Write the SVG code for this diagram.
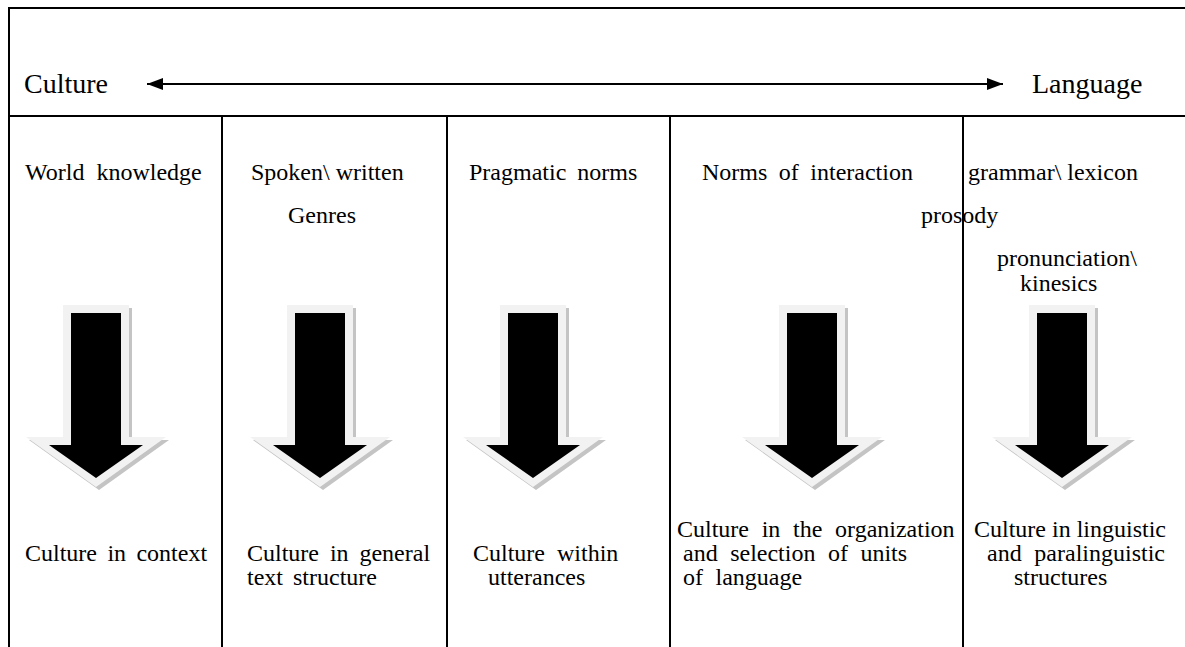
<svg xmlns="http://www.w3.org/2000/svg" width="1185" height="647" viewBox="0 0 1185 647">
<style>
  .big { font-size: 28px; }
  .lbl { font-size: 24px; }
  .frame { stroke: #000; stroke-width: 2; fill: none; }
  .shadow { fill: #c4c4c4; }
  .outer { fill: #f2f2f2; }
  .inner { fill: #000; }
</style>
<defs>
  <marker id="ah" viewBox="0 0 16 12" refX="16" refY="6" markerWidth="16" markerHeight="12" markerUnits="userSpaceOnUse" orient="auto-start-reverse">
    <path d="M0,0 L16,6 L0,12 Z" fill="#000"/>
  </marker>
  <g id="bigArrow">
    <path class="shadow" d="M-30,-179 H36 V-47 H73 L3,3 L-67,-47 H-30 Z"/>
    <path class="outer" d="M-33,-182 H33 V-50 H70 L0,0 L-70,-50 H-33 Z"/>
    <path class="inner" d="M-25,-174 H25 V-42 H47 L0,-9 L-47,-42 H-25 Z"/>
  </g>
</defs>

<g id="frame">
  <line class="frame" x1="9" y1="8" x2="1185" y2="8"/>
  <line class="frame" x1="9" y1="7" x2="9" y2="647"/>
  <line class="frame" x1="9" y1="116" x2="1185" y2="116"/>
  <line class="frame" x1="222" y1="116" x2="222" y2="647"/>
  <line class="frame" x1="447" y1="116" x2="447" y2="647"/>
  <line class="frame" x1="670" y1="116" x2="670" y2="647"/>
  <line class="frame" x1="963" y1="116" x2="963" y2="647"/>
</g>

<g id="connectors">
  <line x1="147" y1="84" x2="1003" y2="84" stroke="#000" stroke-width="2" marker-start="url(#ah)" marker-end="url(#ah)"/>
</g>

<g font-family="Liberation Serif, Tinos, Times New Roman, DejaVu Serif, serif" fill="#000">
<g id="header">
  <text class="big" x="24" y="93">Culture</text>
  <text class="big" x="1032" y="93">Language</text>
</g>

<g id="col1">
  <text class="lbl" x="25" y="180" word-spacing="6">World knowledge</text>
  <use href="#bigArrow" x="96" y="487"/>
  <text class="lbl" x="25" y="561" word-spacing="4.4">Culture in context</text>
</g>

<g id="col2">
  <text class="lbl" x="251" y="180">Spoken\ written</text>
  <text class="lbl" x="288" y="223">Genres</text>
  <use href="#bigArrow" x="320" y="487"/>
  <text class="lbl" x="247" y="561" word-spacing="4.9">Culture in general</text>
  <text class="lbl" x="247" y="585" word-spacing="4">text structure</text>
</g>

<g id="col3">
  <text class="lbl" x="469" y="180" word-spacing="5">Pragmatic norms</text>
  <use href="#bigArrow" x="533" y="487"/>
  <text class="lbl" x="473" y="561" word-spacing="6">Culture within</text>
  <text class="lbl" x="488" y="585">utterances</text>
</g>

<g id="col4">
  <text class="lbl" x="702" y="180" word-spacing="5.5">Norms of interaction</text>
  <use href="#bigArrow" x="812" y="487"/>
  <text class="lbl" x="677" y="537" word-spacing="6.7">Culture in the organization</text>
  <text class="lbl" x="683" y="561" word-spacing="6.5">and selection of units</text>
  <text class="lbl" x="683" y="585" word-spacing="6.5">of language</text>
</g>

<g id="col5">
  <text class="lbl" x="968" y="180">grammar\ lexicon</text>
  <text class="lbl" x="921" y="223">prosody</text>
  <text class="lbl" x="997" y="266">pronunciation\</text>
  <text class="lbl" x="1020" y="291">kinesics</text>
  <use href="#bigArrow" x="1062" y="487"/>
  <text class="lbl" x="974" y="537">Culture in linguistic</text>
  <text class="lbl" x="987" y="561" word-spacing="6.7">and paralinguistic</text>
  <text class="lbl" x="1014" y="585">structures</text>
</g>
</g>
</svg>
